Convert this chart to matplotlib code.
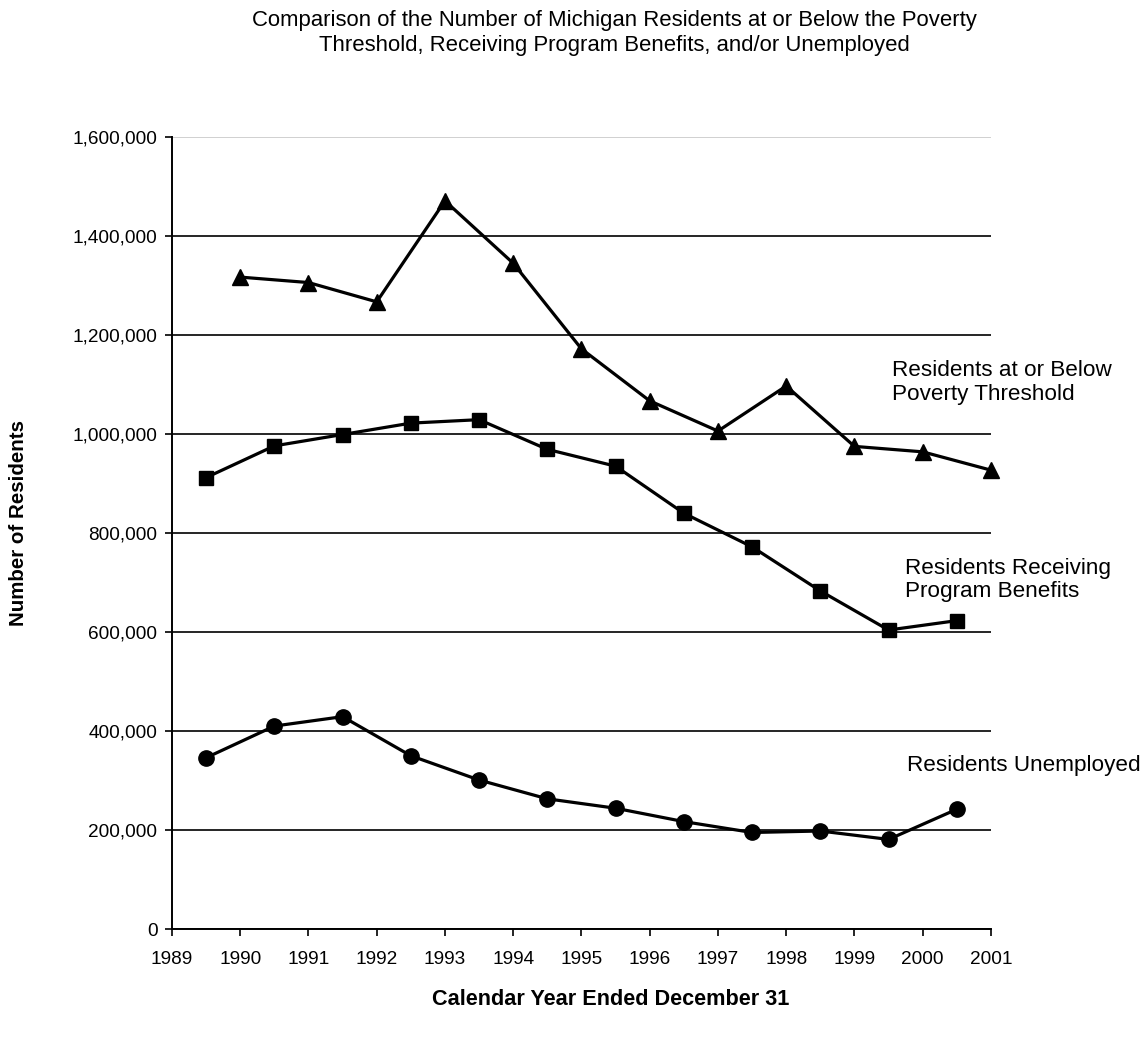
import numpy as np
import matplotlib
matplotlib.use("Agg")
import matplotlib.pyplot as plt
from matplotlib.ticker import FuncFormatter

plt.rcParams['font.family'] = ['Liberation Sans', 'DejaVu Sans']

# poverty counts sit on the year ticks, the other two series sit mid-year
poverty_years = [1990, 1991, 1992, 1993, 1994, 1995, 1996, 1997, 1998, 1999, 2000, 2001]
poverty = [1317000, 1306000, 1267000, 1471000, 1345000, 1172000, 1067000, 1006000,
           1097000, 975000, 964000, 927000]

mid_years = [1989.5, 1990.5, 1991.5, 1992.5, 1993.5, 1994.5, 1995.5, 1996.5,
             1997.5, 1998.5, 1999.5, 2000.5]
benefits = [912000, 976000, 999000, 1022000, 1029000, 969000, 935000, 840000,
            772000, 683000, 604000, 623000]
unemployed = [346000, 410000, 429000, 350000, 301000, 263000, 244000, 217000,
              195000, 198000, 181000, 242000]

year_ticks = list(range(1989, 2002))
y_ticks = [0, 200000, 400000, 600000, 800000, 1000000, 1200000, 1400000, 1600000]

fig = plt.figure(figsize=(11.48, 10.38), dpi=100)
ax = fig.add_axes([0.1498, 0.105, 0.7134, 0.763])

ax.plot(poverty_years, poverty, color='black', lw=2.3, marker='^', ms=11, zorder=3, clip_on=False)
ax.plot(mid_years, benefits, color='black', lw=2.3, marker='s', ms=10, zorder=3)
ax.plot(mid_years, unemployed, color='black', lw=2.3, marker='o', ms=11, zorder=3)

ax.set_xlim(1989, 2001)
ax.set_ylim(0, 1600000)
ax.set_xticks(year_ticks)
ax.set_yticks(y_ticks)
ax.yaxis.set_major_formatter(FuncFormatter(lambda v, p: f"{int(v):,}"))
ax.tick_params(axis='both', labelsize=13.7, direction='out', length=5, width=1.2, color='black')
ax.tick_params(axis='y', pad=5.5)
ax.tick_params(axis='x', pad=11)

ax.yaxis.grid(True, color='black', lw=1.2)
ax.get_ygridlines()[-1].set_color('#c8c8c8')
ax.set_axisbelow(True)
for s in ['top', 'right']:
    ax.spines[s].set_visible(False)
for s in ['left', 'bottom']:
    ax.spines[s].set_linewidth(1.4)

ax.set_xlabel('Calendar Year Ended December 31', fontsize=15.6, fontweight='bold')
ax.set_ylabel('Number of Residents', fontsize=14.8, fontweight='bold')
ax.xaxis.set_label_coords(0.536, -0.0896)
ax.yaxis.set_label_coords(-0.188, 0.513)
ax.xaxis.label.set_va('center')
ax.yaxis.label.set_va('center')

fig.text(0.535, 0.99, 'Comparison of the Number of Michigan Residents at or Below the Poverty\n'
         'Threshold, Receiving Program Benefits, and/or Unemployed',
         ha='center', va='top', fontsize=15.9, linespacing=1.2)

ax.text(0.879, 0.69, 'Residents at or Below\nPoverty Threshold', transform=ax.transAxes,
        fontsize=16.2, va='center', ha='left', linespacing=1.22, clip_on=False)
ax.text(0.895, 0.441, 'Residents Receiving\nProgram Benefits', transform=ax.transAxes,
        fontsize=16.2, va='center', ha='left', linespacing=1.12, clip_on=False)
ax.text(0.897, 0.207, 'Residents Unemployed', transform=ax.transAxes,
        fontsize=16.2, va='center', ha='left', clip_on=False)

fig.savefig('out.png', dpi=100)
